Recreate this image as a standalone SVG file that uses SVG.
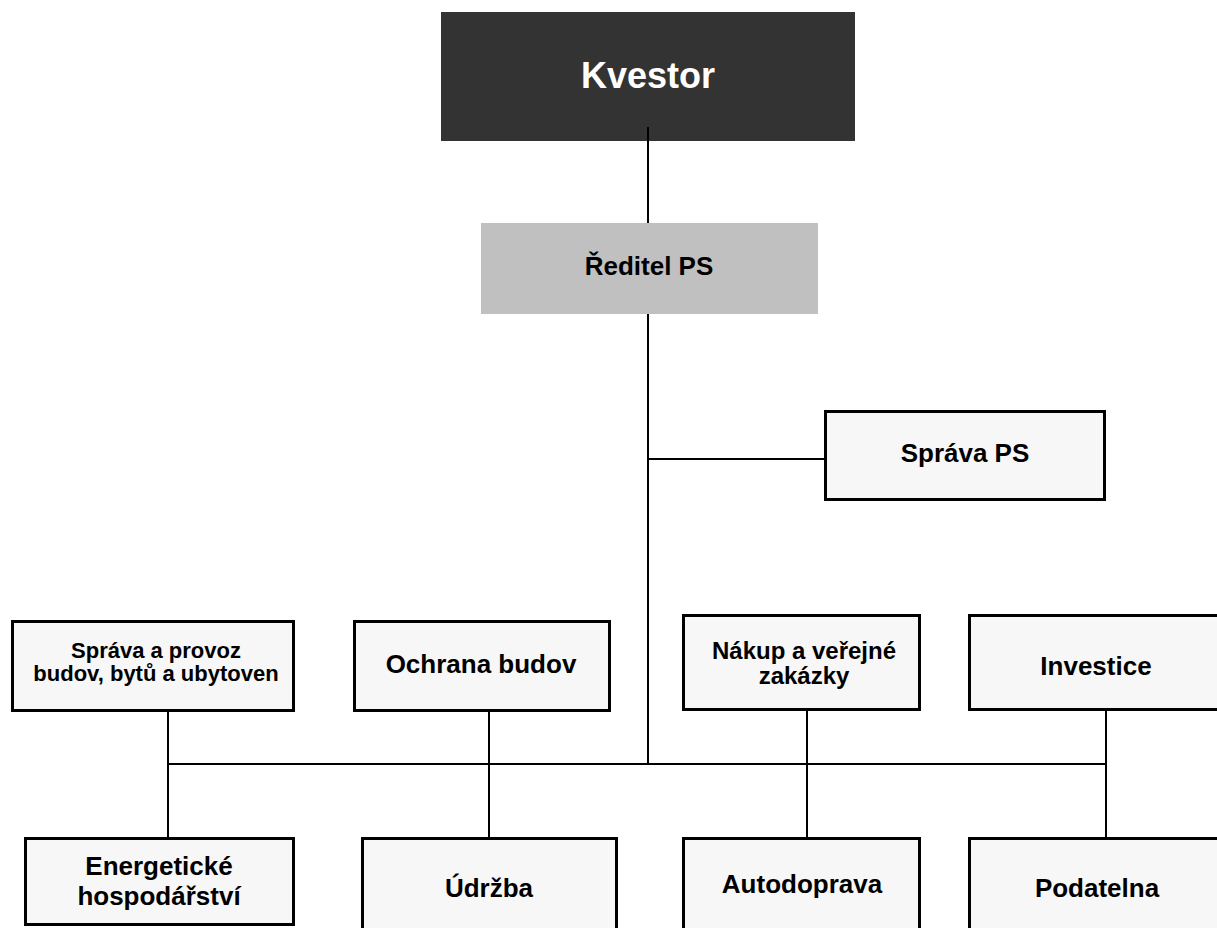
<svg xmlns="http://www.w3.org/2000/svg" width="1217" height="928" viewBox="0 0 1217 928">
<style>
.box{fill:#f7f7f7;stroke:#000;stroke-width:3}
.t{font-family:"Liberation Sans",Arial,sans-serif;font-weight:bold;text-anchor:middle;fill:#000}
.c{fill:none;stroke:#000;stroke-width:2}
</style>
<rect width="1217" height="928" fill="#fff"/>
<g id="n-kvestor">
<rect x="441" y="12" width="414" height="129" fill="#333333"/>
</g>
<g id="n-reditel">
<rect x="481" y="223" width="337" height="91" fill="#c0c0c0"/>
<text class="t" x="649" y="275" font-size="26">Ředitel PS</text>
</g>
<g id="connectors">
<path class="c" d="M648 127V223"/>
<path class="c" d="M648 314V764"/>
<path class="c" d="M648 459H824"/>
<path class="c" d="M168 764H1106"/>
<path class="c" d="M168 712V837"/>
<path class="c" d="M489 712V837"/>
<path class="c" d="M807 711V837"/>
<path class="c" d="M1106 711V837"/>
</g>
<g id="n-kvestor-label">
<text class="t" x="648" y="88" font-size="36" fill="#fff" style="fill:#fff">Kvestor</text>
</g>
<g id="n-sprava-ps">
<rect class="box" x="825.5" y="411.5" width="279" height="88"/>
<text class="t" x="965" y="462" font-size="26">Správa PS</text>
</g>
<g id="n-sprava-provoz">
<rect class="box" x="12.5" y="621.5" width="281" height="89"/>
<text class="t" x="156" y="658" font-size="22">Správa a provoz</text>
<text class="t" x="156" y="681" font-size="22">budov, bytů a ubytoven</text>
</g>
<g id="n-ochrana">
<rect class="box" x="354.5" y="621.5" width="255" height="89"/>
<text class="t" x="481" y="673" font-size="26">Ochrana budov</text>
</g>
<g id="n-nakup">
<rect class="box" x="683.5" y="615.5" width="236" height="94"/>
<text class="t" x="804" y="659" font-size="24">Nákup a veřejné</text>
<text class="t" x="804" y="684" font-size="24">zakázky</text>
</g>
<g id="n-investice">
<rect class="box" x="969.5" y="615.5" width="252" height="94"/>
<text class="t" x="1096" y="675" font-size="26">Investice</text>
</g>
<g id="n-energeticke">
<rect class="box" x="25.5" y="838.5" width="268" height="86"/>
<text class="t" x="159" y="875" font-size="26">Energetické</text>
<text class="t" x="159" y="905" font-size="26">hospodářství</text>
</g>
<g id="n-udrzba">
<rect class="box" x="362.5" y="838.5" width="254" height="100"/>
<text class="t" x="489" y="897" font-size="26">Údržba</text>
</g>
<g id="n-autodoprava">
<rect class="box" x="683.5" y="838.5" width="236" height="100"/>
<text class="t" x="802" y="893" font-size="26">Autodoprava</text>
</g>
<g id="n-podatelna">
<rect class="box" x="969.5" y="838.5" width="252" height="100"/>
<text class="t" x="1097" y="897" font-size="26">Podatelna</text>
</g>
</svg>
